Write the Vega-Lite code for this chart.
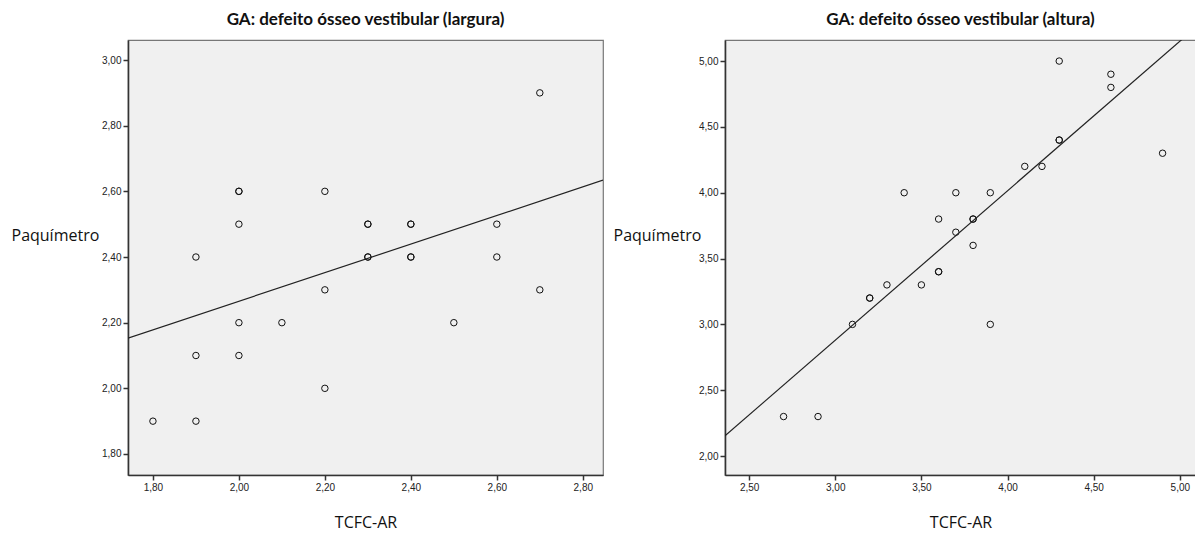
{
  "$schema": "https://vega.github.io/schema/vega-lite/v6.json",
  "padding": {"left": 10, "top": 10, "right": 0, "bottom": 0},
  "spacing": 8,
  "background": "white",
  "config": {
    "view": {"stroke": "#777", "fill": "#f0f0f0", "strokeWidth": 1.2},
    "axis": {"grid": false, "domain": true, "domainColor": "#333", "domainWidth": 1.6, "tickColor": "#333", "tickWidth": 1.5, "tickSize": 5, "labelFont": "Liberation Sans", "labelFontSize": 10, "labelColor": "#222", "titleFont": "Open Sans", "titleFontSize": 16, "titleFontWeight": "normal", "titleColor": "#111"},
    "title": {"font": "Lato", "fontSize": 17, "fontWeight": "bold", "color": "#111", "offset": 11}
  },
  "datasets": {
    "largura": [
      {"x": 1.8, "y": 1.9}, {"x": 1.9, "y": 2.4}, {"x": 1.9, "y": 2.1}, {"x": 1.9, "y": 1.9},
      {"x": 2.0, "y": 2.6}, {"x": 2.0, "y": 2.6}, {"x": 2.0, "y": 2.5}, {"x": 2.0, "y": 2.2}, {"x": 2.0, "y": 2.1},
      {"x": 2.1, "y": 2.2}, {"x": 2.2, "y": 2.6}, {"x": 2.2, "y": 2.3}, {"x": 2.2, "y": 2.0},
      {"x": 2.3, "y": 2.5}, {"x": 2.3, "y": 2.5}, {"x": 2.3, "y": 2.4}, {"x": 2.3, "y": 2.4},
      {"x": 2.4, "y": 2.5}, {"x": 2.4, "y": 2.5}, {"x": 2.4, "y": 2.4}, {"x": 2.4, "y": 2.4},
      {"x": 2.5, "y": 2.2}, {"x": 2.6, "y": 2.5}, {"x": 2.6, "y": 2.4}, {"x": 2.7, "y": 2.9}, {"x": 2.7, "y": 2.3}
    ],
    "largura_fit": [{"x": 1.742, "y": 2.153}, {"x": 2.847, "y": 2.634}],
    "altura": [
      {"x": 2.7, "y": 2.3}, {"x": 2.9, "y": 2.3}, {"x": 3.1, "y": 3.0}, {"x": 3.2, "y": 3.2}, {"x": 3.2, "y": 3.2},
      {"x": 3.3, "y": 3.3}, {"x": 3.4, "y": 4.0}, {"x": 3.5, "y": 3.3}, {"x": 3.6, "y": 3.8}, {"x": 3.6, "y": 3.4}, {"x": 3.6, "y": 3.4},
      {"x": 3.7, "y": 4.0}, {"x": 3.7, "y": 3.7}, {"x": 3.8, "y": 3.8}, {"x": 3.8, "y": 3.8}, {"x": 3.8, "y": 3.6},
      {"x": 3.9, "y": 4.0}, {"x": 3.9, "y": 3.0}, {"x": 4.1, "y": 4.2}, {"x": 4.2, "y": 4.2},
      {"x": 4.3, "y": 5.0}, {"x": 4.3, "y": 4.4}, {"x": 4.3, "y": 4.4}, {"x": 4.6, "y": 4.9}, {"x": 4.6, "y": 4.8}, {"x": 4.9, "y": 4.3}
    ],
    "altura_fit": [{"x": 2.36, "y": 2.153}, {"x": 5.094, "y": 5.257}]
  },
  "hconcat": [
    {
      "title": "GA: defeito ósseo vestibular (largura)",
      "width": 475,
      "height": 435,
      "layer": [
        {
          "data": {"name": "largura"},
          "mark": {"type": "point", "shape": "circle", "filled": false, "stroke": "#111", "strokeWidth": 1, "size": 42, "opacity": 1},
          "encoding": {
            "x": {"field": "x", "type": "quantitative", "scale": {"domain": [1.742, 2.847], "nice": false, "zero": false},
                  "axis": {"values": [1.8, 2.0, 2.2, 2.4, 2.6, 2.8], "labelExpr": "replace(format(datum.value, '.2f'), '.', ',')", "title": "TCFC-AR", "titleY": 47, "titleBaseline": "middle"}},
            "y": {"field": "y", "type": "quantitative", "scale": {"domain": [1.736, 3.061], "nice": false, "zero": false},
                  "axis": {"values": [1.8, 2.0, 2.2, 2.4, 2.6, 2.8, 3.0], "labelExpr": "replace(format(datum.value, '.2f'), '.', ',')", "title": "Paquímetro", "titleAngle": 0, "titleX": -117, "titleY": 195, "titleAlign": "left", "titleBaseline": "middle"}}
          }
        },
        {
          "data": {"name": "largura_fit"},
          "mark": {"type": "line", "color": "#222", "strokeWidth": 1.2, "clip": true},
          "encoding": {
            "x": {"field": "x", "type": "quantitative"},
            "y": {"field": "y", "type": "quantitative"}
          }
        }
      ]
    },
    {
      "title": "GA: defeito ósseo vestibular (altura)",
      "width": 471,
      "height": 435,
      "layer": [
        {
          "data": {"name": "altura"},
          "mark": {"type": "point", "shape": "circle", "filled": false, "stroke": "#111", "strokeWidth": 1, "size": 42, "opacity": 1},
          "encoding": {
            "x": {"field": "x", "type": "quantitative", "scale": {"domain": [2.36, 5.094], "nice": false, "zero": false},
                  "axis": {"values": [2.5, 3.0, 3.5, 4.0, 4.5, 5.0], "labelExpr": "replace(format(datum.value, '.2f'), '.', ',')", "title": "TCFC-AR", "titleY": 47, "titleBaseline": "middle"}},
            "y": {"field": "y", "type": "quantitative", "scale": {"domain": [1.856, 5.16], "nice": false, "zero": false},
                  "axis": {"values": [2.0, 2.5, 3.0, 3.5, 4.0, 4.5, 5.0], "labelExpr": "replace(format(datum.value, '.2f'), '.', ',')", "title": "Paquímetro", "titleAngle": 0, "titleX": -112, "titleY": 195, "titleAlign": "left", "titleBaseline": "middle"}}
          }
        },
        {
          "data": {"name": "altura_fit"},
          "mark": {"type": "line", "color": "#222", "strokeWidth": 1.2, "clip": true},
          "encoding": {
            "x": {"field": "x", "type": "quantitative"},
            "y": {"field": "y", "type": "quantitative"}
          }
        }
      ]
    }
  ]
}
